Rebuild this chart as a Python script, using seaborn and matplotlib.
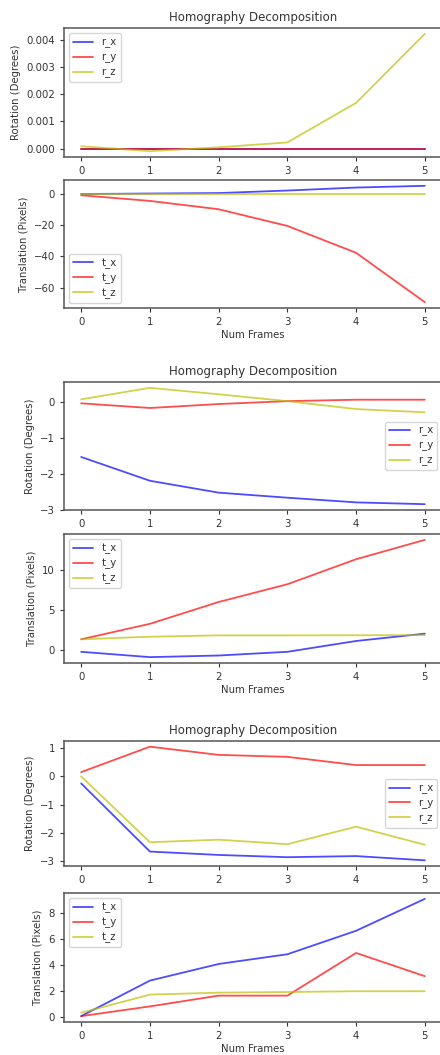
import numpy as np
import pandas as pd
import matplotlib
matplotlib.use('Agg')
import matplotlib.pyplot as plt
import seaborn as sns

sns.set_style('ticks')
plt.rcParams['font.family'] = ['DejaVu Sans']

frames = [0, 1, 2, 3, 4, 5]

# block 1
rot1_x = [0.0, 0.0, 0.0, 0.0, 0.0, 0.0]
rot1_y = [0.0, 0.0, 0.0, 0.0, 0.0, 0.0]
rot1_z = [0.00009, -0.00009, 0.00005, 0.00023, 0.00168, 0.00421]
tra1_x = [-0.3, 0.0, 0.3, 1.9, 3.8, 4.9]
tra1_y = [-1.1, -4.7, -10.0, -20.6, -37.7, -69.1]
tra1_z = [0.0, 0.0, 0.0, 0.0, 0.0, 0.0]

# block 2
rot2_x = [-1.54, -2.20, -2.53, -2.67, -2.80, -2.85]
rot2_y = [-0.05, -0.18, -0.07, 0.01, 0.05, 0.05]
rot2_z = [0.06, 0.38, 0.20, 0.01, -0.21, -0.30]
tra2_x = [-0.17, -0.83, -0.63, -0.17, 1.17, 2.08]
tra2_y = [1.38, 3.30, 6.00, 8.20, 11.30, 13.70]
tra2_z = [1.38, 1.70, 1.87, 1.87, 1.88, 1.90]

# block 3
rot3_x = [-0.25, -2.66, -2.78, -2.86, -2.82, -2.97]
rot3_y = [0.15, 1.05, 0.76, 0.69, 0.40, 0.40]
rot3_z = [0.00, -2.33, -2.24, -2.40, -1.78, -2.42]
tra3_x = [0.08, 2.82, 4.10, 4.85, 6.66, 9.12]
tra3_y = [0.08, 0.83, 1.66, 1.66, 4.95, 3.16]
tra3_z = [0.34, 1.74, 1.89, 1.94, 2.00, 2.00]

blocks = [
    ((rot1_x, rot1_y, rot1_z), (tra1_x, tra1_y, tra1_z)),
    ((rot2_x, rot2_y, rot2_z), (tra2_x, tra2_y, tra2_z)),
    ((rot3_x, rot3_y, rot3_z), (tra3_x, tra3_y, tra3_z)),
]
colors = ['blue', 'red', 'y']

W, H = 440, 1055
fig = plt.figure(figsize=(W / 100, H / 100), dpi=100)

# (top, bottom) in pixels for each pair of axes
rows = [((28, 157), (180, 308)), ((382, 510), (534, 663)), ((741, 866), (893, 1022))]
left, right = 64, 442  # right spine falls just outside the picture

FS = 7.3
TXT = '#333333'

def style_ax(ax):
    for s in ax.spines.values():
        s.set_color('#555555')
        s.set_linewidth(1.1)
    ax.tick_params(labelsize=FS, colors=TXT, length=3, width=0.8)
    ax.set_xticks(frames)

def draw(ax, series, prefix):
    for vals, c, suf in zip(series, colors, ['x', 'y', 'z']):
        sns.lineplot(x=frames, y=vals, color=c, alpha=0.7, linewidth=1.3,
                     label=f'{prefix}_{suf}', ax=ax)
    leg = ax.legend(loc='best', fontsize=FS, handlelength=2.0, borderpad=0.4,
                    labelspacing=0.4, framealpha=0.8)
    for t in leg.get_texts():
        t.set_color(TXT)

for (rot, tra), ((t1, b1), (t2, b2)) in zip(blocks, rows):
    ax1 = fig.add_axes([left / W, 1 - b1 / H, (right - left) / W, (b1 - t1) / H])
    draw(ax1, rot, 'r')
    style_ax(ax1)
    ax1.set_title('Homography Decomposition', fontsize=8.5, color=TXT, pad=5)
    ax1.set_ylabel('Rotation (Degrees)', fontsize=FS, color=TXT)

    ax2 = fig.add_axes([left / W, 1 - b2 / H, (right - left) / W, (b2 - t2) / H])
    draw(ax2, tra, 't')
    style_ax(ax2)
    ax2.set_ylabel('Translation (Pixels)', fontsize=FS, color=TXT)
    ax2.set_xlabel('Num Frames', fontsize=FS, color=TXT, labelpad=2)

fig.savefig('out.png', dpi=100, facecolor='white')
